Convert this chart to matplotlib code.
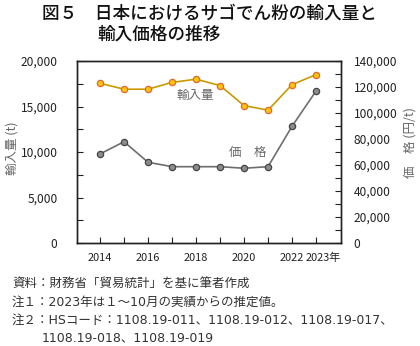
import matplotlib
matplotlib.use("Agg")
import matplotlib.pyplot as plt
import matplotlib.transforms as mtransforms
from matplotlib.ticker import MultipleLocator, FuncFormatter

plt.rcParams['font.family'] = ['Noto Sans CJK JP', 'DejaVu Sans']

# data
years = [2014, 2015, 2016, 2017, 2018, 2019, 2020, 2021, 2022, 2023]
volume_t = [17550, 16900, 16900, 17650, 18000, 17300, 15100, 14600, 17400, 18500]
price_yen_per_t = [68500, 77900, 62100, 58700, 58700, 58700, 57500, 58700, 89800, 116900]
xtick_years = [2014, 2016, 2018, 2020, 2022, 2023]
xtick_labels = ["2014", "2016", "2018", "2020", "2022", "2023年"]

fig = plt.figure(figsize=(4.2, 3.46), dpi=100)
ax = fig.add_axes([77 / 420, 1 - 243 / 346, (341 - 77) / 420, (243 - 61) / 346])
ax2 = ax.twinx()

# import volume (left axis)
ax.plot(years, volume_t, color="#C99A00", lw=1.2, marker="o", ms=4.5,
        mfc="#FFC20E", mec="#E4672A", mew=0.9, zorder=3)
# price (right axis)
ax2.plot(years, price_yen_per_t, color="#6E6E6E", lw=1.2, marker="o", ms=4.5,
         mfc="#8C8C8C", mec="#444444", mew=0.9, zorder=3)

ax.set_xlim(2013.04, 2024.04)
ax.set_ylim(0, 20000)
ax2.set_ylim(0, 140000)

fmt = FuncFormatter(lambda v, p: f"{int(v):,}")
ax.yaxis.set_major_locator(MultipleLocator(5000))
ax.yaxis.set_minor_locator(MultipleLocator(2500))
ax.yaxis.set_major_formatter(fmt)
ax2.yaxis.set_major_locator(MultipleLocator(20000))
ax2.yaxis.set_minor_locator(MultipleLocator(10000))
ax2.yaxis.set_major_formatter(fmt)

ax.set_xticks(years, minor=True)
ax.set_xticks(xtick_years)
ax.set_xticklabels(xtick_labels)

for a in (ax, ax2):
    for s in a.spines.values():
        s.set_color("#222222")
        s.set_linewidth(1.0)
ax.tick_params(axis="y", which="both", direction="in", length=4, width=0.8,
               labelsize=8.6, pad=14, color="#222222", labelcolor="#222222")
ax.tick_params(axis="x", which="both", direction="in", length=4, width=0.8,
               labelsize=7.9, pad=7, color="#222222", labelcolor="#222222")
ax2.tick_params(axis="y", which="both", direction="in", length=4, width=0.8,
                labelsize=8.6, pad=9, color="#222222", labelcolor="#222222")

# "2023" stays centred on its tick, the 年 hangs off to the right
last = ax.get_xticklabels()[-1]
last.set_transform(last.get_transform() +
                   mtransforms.ScaledTranslation(5 / 72, 0, fig.dpi_scale_trans))

fig.text(12 / 420, 1 - 148 / 346, "輸入量 (t)", rotation=90, ha="center", va="center",
         fontsize=9, color="#666666")
fig.text(410 / 420, 1 - 143 / 346, "価　格 (円/t)", rotation=90, ha="center", va="center",
         fontsize=9, color="#666666")

ax.text(2017.95, 16250, "輸入量", fontsize=9, color="#666666", ha="center", va="center")
ax.text(2020.15, 9900, "価　格", fontsize=9, color="#666666", ha="center", va="center")

# title
fig.text(42 / 420, 1 - 14 / 346, "図５　日本におけるサゴでん粉の輸入量と", fontsize=12.7,
         fontweight="medium", ha="left", va="center", color="#111111")
fig.text(97 / 420, 1 - 35 / 346, "輸入価格の推移", fontsize=12.7,
         fontweight="medium", ha="left", va="center", color="#111111")

# notes
note_font = ['DejaVu Sans', 'Noto Sans CJK JP']
notes = [(12, 284, "資料：財務省「貿易統計」を基に筆者作成"),
         (12, 302, "注１：2023年は１～10月の実績からの推定値。"),
         (12, 320, "注２：HSコード：1108.19-011、1108.19-012、1108.19-017、"),
         (42, 338, "1108.19-018、1108.19-019")]
for x, y, line in notes:
    fig.text(x / 420, 1 - y / 346, line, fontsize=9, family=note_font,
             ha="left", va="center", color="#333333")

fig.savefig("out.png", dpi=100)
